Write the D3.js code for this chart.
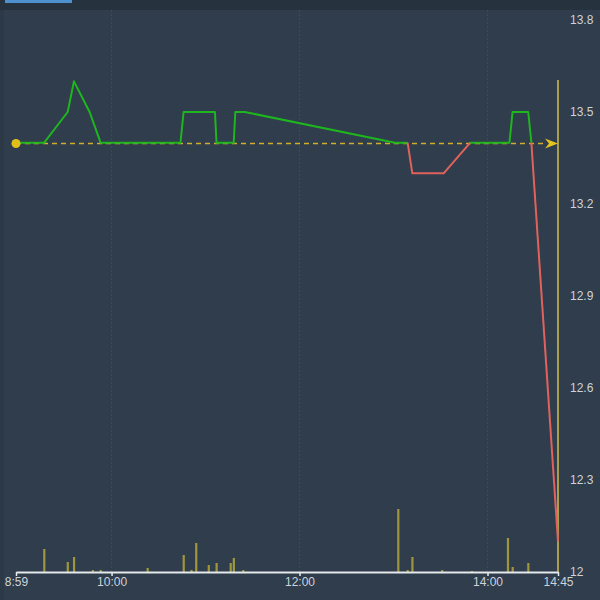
<!DOCTYPE html>
<html>
<head>
<meta charset="utf-8">
<script src="https://cdn.jsdelivr.net/npm/d3@7"></script>
<style>
  html, body { margin: 0; padding: 0; background: #2f3d4c; }
  svg { display: block; }
</style>
</head>
<body>
<svg id="chart" width="600" height="600"></svg>
<script>
// ---- data ----
const priceTimes = ["08:59","09:17","09:32","09:36","09:46","09:53","10:44","10:46","11:06","11:07","11:18","11:19","11:25","13:01","13:09","13:12","13:32","13:49","14:14","14:16","14:26","14:28","14:45"];
const prices     = [13.4, 13.4, 13.5, 13.6, 13.5, 13.4, 13.4, 13.5, 13.5, 13.4, 13.4, 13.5, 13.5, 13.4, 13.4, 13.3, 13.3, 13.4, 13.4, 13.5, 13.5, 13.4, 12.1];
const volTimes   = ["09:17","09:32","09:36","09:48","09:53","10:23","10:46","10:51","10:54","11:02","11:07","11:16","11:18","11:24","13:03","13:09","13:12","13:31","13:50","14:13","14:16","14:26"];
const volumes    = [230, 100, 150, 20, 20, 40, 170, 20, 290, 70, 90, 90, 140, 20, 630, 20, 150, 20, 10, 340, 50, 90];
const prevClose  = 13.4;
const xTickLabels = ["08:59","10:00","12:00","14:00","14:45"];
const yTickValues = [12, 12.3, 12.6, 12.9, 13.2, 13.5, 13.8];
const timeStart = "08:59", timeEnd = "14:45";

(function () {
const parseT = s => { const [h, m] = s.split(":").map(Number); return new Date(2020, 0, 2, h, m); };

const svg = d3.select("#chart");
const W = 600, H = 600;
const pL = 16, pR = 558, pT = 20, pB = 572;

// background pieces
svg.append("rect").attr("x", 0).attr("y", 0).attr("width", W).attr("height", H).attr("fill", "#2f3d4c");
svg.append("rect").attr("x", 0).attr("y", 0).attr("width", W).attr("height", 10).attr("fill", "#26323e");
svg.append("rect").attr("x", 5).attr("y", 0).attr("width", 67).attr("height", 3).attr("fill", "#4d92cf");
svg.append("rect").attr("x", 0).attr("y", 10).attr("width", 4).attr("height", H - 10).attr("fill", "#2c3947");

const x = d3.scaleTime().domain([parseT(timeStart), parseT(timeEnd)]).range([pL, pR]);
const y = d3.scaleLinear().domain([12, 13.8]).range([pB, pT]);
const vMax = d3.max(volumes);
const yv = d3.scaleLinear().domain([0, vMax]).range([pB, 509]);

// vertical dotted grid
const gridTimes = xTickLabels.slice(1, 4).map(parseT);
svg.append("g").selectAll("line").data(gridTimes).join("line")
  .attr("x1", d => x(d)).attr("x2", d => x(d))
  .attr("y1", 10).attr("y2", pB)
  .attr("stroke", "#3c4b5a").attr("stroke-width", 1).attr("stroke-dasharray", "2,2");

// volume bars
svg.append("g").selectAll("rect").data(volTimes.map((t, i) => ({ t: parseT(t), v: volumes[i] }))).join("rect")
  .attr("x", d => x(d.t) - 1).attr("width", 2.2)
  .attr("y", d => yv(d.v)).attr("height", d => pB - yv(d.v))
  .attr("fill", "#b3a63c").attr("opacity", 0.85);

// right vertical "now" line
svg.append("line").attr("x1", x(parseT(timeEnd))).attr("x2", x(parseT(timeEnd)))
  .attr("y1", 80).attr("y2", pB)
  .attr("stroke", "#a99d52").attr("stroke-width", 2);

// previous close dashed line with arrow
const yBase = Math.round(y(prevClose)) + 0.5;
svg.append("line").attr("x1", pL).attr("x2", pR - 12)
  .attr("y1", yBase).attr("y2", yBase)
  .attr("stroke", "#d1ae2a").attr("stroke-width", 1.3).attr("stroke-dasharray", "5,4");
const ax = pR;
svg.append("path")
  .attr("d", `M${ax},${yBase} L${ax - 13},${yBase - 5} L${ax - 9},${yBase} L${ax - 13},${yBase + 5} Z`)
  .attr("fill", "#e4c31e");

// price line segments coloured by above/below previous close
const pts = priceTimes.map((t, i) => ({ t: parseT(t), p: prices[i] }));
const lineGen = d3.line().x(d => x(d.t)).y(d => y(d.p));
const groups = [];
for (let i = 0; i < pts.length - 1; i++) {
  const a = pts[i], b = pts[i + 1];
  const up = a.p >= prevClose && b.p >= prevClose;
  const g = groups[groups.length - 1];
  if (g && g.up === up) g.pts.push(b);
  else groups.push({ up, pts: [a, b] });
}
svg.append("g").selectAll("path").data(groups).join("path")
  .attr("d", d => lineGen(d.pts))
  .attr("fill", "none")
  .attr("stroke", d => d.up ? "#1fb51f" : "#e0625c")
  .attr("stroke-width", 2)
  .attr("stroke-linejoin", "round");

// start dot on top
svg.append("circle").attr("cx", pL).attr("cy", yBase).attr("r", 4.5).attr("fill", "#e3bf1c");

// x axis
const xAxis = d3.axisBottom(x)
  .tickValues(xTickLabels.map(parseT))
  .tickFormat(d3.timeFormat("%-H:%M"))
  .tickSize(4).tickSizeOuter(0);
const gx = svg.append("g").attr("transform", `translate(0,${pB})`).call(xAxis);
gx.select(".domain").attr("stroke", "#e6e9ec").attr("stroke-width", 2);
gx.selectAll(".tick line").attr("stroke", "#e6e9ec").attr("stroke-width", 1.5);
gx.selectAll(".tick text")
  .attr("fill", "#cdd3d9").attr("font-family", "Liberation Sans, Arial, sans-serif")
  .attr("font-size", 12).attr("dy", "0.55em");

// y axis (right)
const yAxis = d3.axisRight(y)
  .tickValues(yTickValues)
  .tickFormat(d => String(+d.toFixed(1)))
  .tickSize(0);
const gy = svg.append("g").attr("transform", `translate(${pR + 9},0)`).call(yAxis);
gy.select(".domain").remove();
gy.selectAll(".tick text")
  .attr("fill", "#cdd3d9").attr("font-family", "Liberation Sans, Arial, sans-serif")
  .attr("font-size", 12);
})();
</script>
</body>
</html>
